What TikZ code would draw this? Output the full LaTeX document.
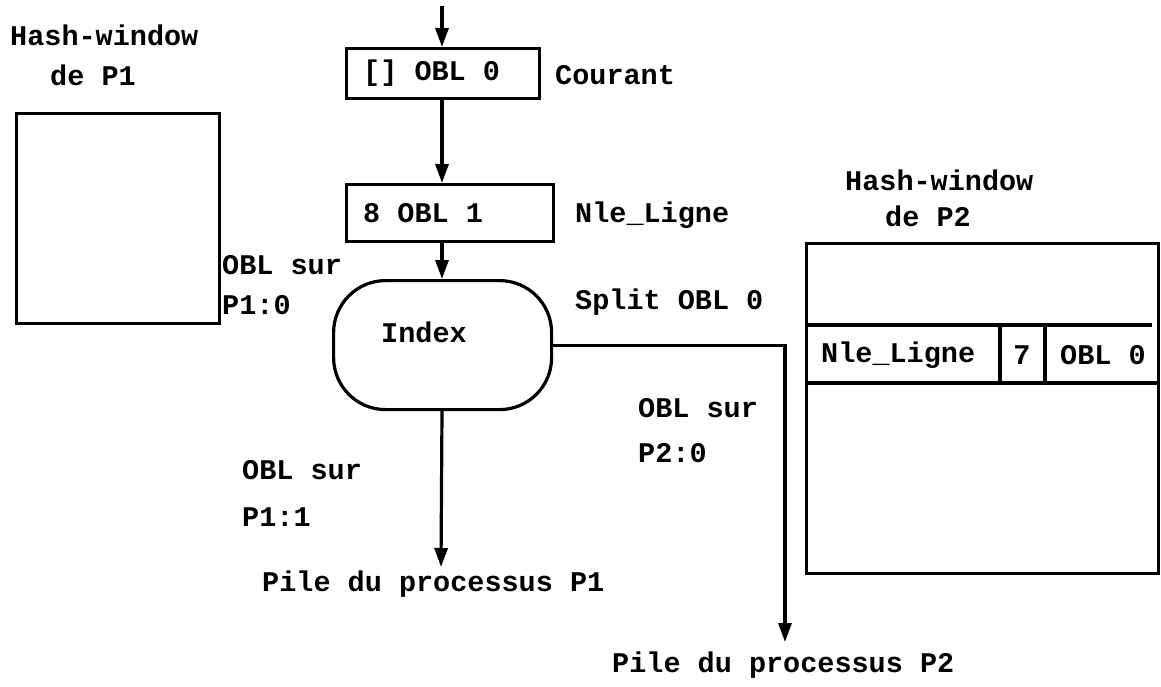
\documentclass[tikz,border=0pt]{standalone}
\usepackage{fontspec}
\setmonofont{Liberation Mono}
\usetikzlibrary{arrows.meta}
\begin{document}
\begin{tikzpicture}[x=1pt,y=-1pt,
  lw/.style={line width=3.2pt},
  lbl/.style={font=\ttfamily\bfseries\fontsize{28.5}{31}\selectfont, inner sep=0pt, anchor=west},
  boxed/.style={draw, lw, inner sep=0pt, anchor=north west},
  arr/.style={lw, -{Triangle[length=19pt,width=13pt]}},
]
\useasboundingbox (0,0) rectangle (1161,687);

% hash window of P1
\node[lbl] (hw1a) at (10,35) {Hash-window};
\node[lbl] (hw1b) at (50,75) {de P1};
\node[boxed, minimum width=203pt, minimum height=210pt] (hw1) at (15,112) {};

% current line and new line
\coordinate (in) at (442,6);
\node[boxed, minimum width=193pt, minimum height=50pt] (cur) at (345,47) {};
\node[lbl] (curtxt) at (363,73) {[] OBL 0};
\node[lbl] (curlbl) at (555,75) {Courant};

\node[boxed, minimum width=207pt, minimum height=57pt] (nl) at (345,183) {};
\node[lbl] (nltxt) at (363,213) {8 OBL 1};
\node[lbl] (nllbl) at (575,215) {Nle\_Ligne};

% index
\node[boxed, rounded corners=52pt, minimum width=218pt, minimum height=129pt] (idx) at (332,279) {};
\node[lbl] (idxtxt) at (381,332) {Index};

\node[lbl] (o10a) at (222,265) {OBL sur};
\node[lbl] (o10b) at (222,305) {P1:0};
\node[lbl] (split) at (575,302) {Split OBL 0};
\node[lbl] (o20a) at (638,408) {OBL sur};
\node[lbl] (o20b) at (638,453) {P2:0};
\node[lbl] (o11a) at (242,470) {OBL sur};
\node[lbl] (o11b) at (242,517) {P1:1};

\node[lbl] (pile1) at (262,584) {Pile du processus P1};
\node[lbl] (pile2) at (612,665) {Pile du processus P2};
\coordinate (p1end) at (441,567);
\coordinate (p2end) at (785,642);

% hash window of P2
\node[lbl] (hw2a) at (845,180) {Hash-window};
\node[lbl] (hw2b) at (885,216) {de P2};
\node[boxed, minimum width=352pt, minimum height=330pt] (hw2) at (805,242) {};
\draw[lw] (805,325) -- (1152,325);
\draw[lw] (805,383) -- (1157,383);
\draw[lw] (1000,325) -- (1000,383);
\draw[lw] (1045,325) -- (1045,383);
\node[lbl] (rowa) at (821,355) {Nle\_Ligne};
\node[lbl, anchor=center] (rowb) at (1022,355) {7};
\node[lbl] (rowc) at (1060,355) {OBL 0};

% connectors
\draw[arr] (in) -- (in |- cur.north);
\draw[arr] (cur.south -| in) -- (nl.north -| in);
\draw[arr] (nl.south -| in) -- (idx.north -| in);
\draw[arr] (idx.south -| in) -- (p1end);
\draw[arr] (idx.east) -| (p2end);
\end{tikzpicture}
\end{document}
